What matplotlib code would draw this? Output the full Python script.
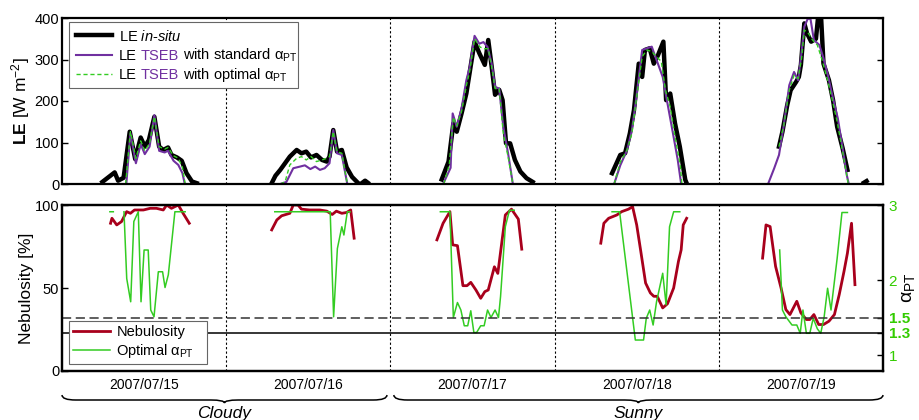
import numpy as np
import matplotlib
matplotlib.use('Agg')
from matplotlib import pyplot as plt
from matplotlib.path import Path
from matplotlib.patches import PathPatch
import matplotlib.transforms as mtransforms

nan = np.nan

days = ['2007/07/15', '2007/07/16', '2007/07/17', '2007/07/18', '2007/07/19']
day_centres = [12, 36, 60, 84, 108]
day_edges = [24, 48, 72, 96]
sky_groups = ['Cloudy', 'Sunny']
sky_spans = [(0, 47.5), (48.5, 120)]

# time axis = hours since 2007/07/15 00:00, NaN breaks the line between days
le_insitu_h = [5.9, 7.7, 8.2, 9.0, 9.9, 10.7, 11.5, 12.1, 12.7, 13.5, 14.2, 14.8, 15.5, 16.0, 16.8, 17.5, 18.2, 19.0, 19.7, nan,
               30.65, 31.2, 31.9, 32.6, 33.3, 34.3, 35.0, 35.7, 36.4, 37.2, 38.0, 38.7, 39.1, 39.65, 40.2, 40.9, 41.6, 42.4, 43.3, nan,
               43.9, 44.3, 44.7, nan,
               55.5, 56.5, 57.2, 57.7, 58.4, 59.1, 59.6, 60.3, 61.0, 61.8, 62.3, 62.8, 63.3, 63.9, 64.4, 64.9, 65.5, 66.2, 67.0, 67.9, 68.8, nan,
               80.4, 81.6, 82.3, 83.0, 83.6, 84.3, 84.8, 85.2, 85.9, 86.5, 87.1, 87.9, 88.3, 88.9, 89.6, 90.3, 91.1, 91.3, nan,
               104.8, 105.3, 106.0, 106.5, 107.3, 107.7, 108.0, 108.5, 108.9, 109.5, 110.2, 110.8, 111.3, 112.1, 112.7, 113.3, 114.1, 114.8, nan,
               117.2, 117.6]
le_insitu = [5, 28, 8, 15, 126, 60, 112, 90, 106, 162, 90, 82, 88, 70, 64, 56, 26, 6, 2, nan,
             2, 20, 34, 50, 66, 82, 74, 78, 64, 70, 58, 54, 66, 130, 78, 82, 40, 17, 2, nan,
             3, 8, 3, nan,
             11, 54, 146, 126, 170, 218, 270, 343, 315, 287, 347, 283, 215, 227, 202, 98, 98, 58, 30, 14, 5, nan,
             26, 70, 74, 122, 178, 290, 258, 323, 327, 290, 310, 343, 202, 218, 146, 90, 10, 2, nan,
             90, 126, 190, 226, 246, 258, 287, 387, 363, 343, 350, 450, 290, 250, 202, 138, 86, 34, nan,
             3, 7]

le_std_h = [9.4, 10.0, 10.8, 11.5, 12.1, 12.8, 13.5, 14.2, 15.0, 15.5, 16.3, 17.0, 17.6, 17.95, nan,
            31.9, 32.8, 33.8, 34.8, 35.5, 36.3, 37.0, 37.7, 38.4, 39.1, 39.65, 40.2, 40.9, 41.7, nan,
            55.7, 56.8, 57.1, 57.7, 58.4, 59.1, 59.6, 60.3, 61.0, 61.6, 62.2, 62.8, 63.3, 63.9, 64.5, 65.2, 65.9, nan,
            80.7, 81.6, 82.6, 83.3, 83.9, 84.8, 85.5, 86.2, 86.9, 87.8, 88.5, 89.3, 90.0, 90.5, nan,
            103.2, 104.1, 104.8, 105.5, 106.3, 107.0, 107.6, 108.1, 108.5, 109.0, 109.4, 109.9, 110.7, 111.3, 112.0, 112.7, 113.4, 114.1, 114.7, 115.0]
le_std = [0, 122, 50, 96, 72, 90, 166, 80, 76, 80, 56, 46, 26, 0, nan,
          0, 5, 38, 42, 45, 36, 42, 34, 38, 50, 130, 74, 70, 0, nan,
          0, 39, 170, 138, 182, 250, 282, 357, 338, 342, 330, 290, 234, 230, 138, 74, 0, nan,
          0, 45, 82, 130, 202, 323, 327, 331, 299, 258, 194, 122, 58, 0, nan,
          0, 38, 70, 142, 238, 270, 250, 318, 379, 398, 398, 347, 335, 303, 258, 206, 158, 86, 22, 0]

le_opt_h = [9.3, 10.0, 10.8, 11.5, 12.1, 12.8, 13.5, 14.2, 15.0, 15.5, 16.3, 17.0, 17.6, 18.0, nan,
            31.9, 32.6, 33.3, 34.3, 35.0, 35.7, 36.4, 37.2, 38.0, 38.7, 39.1, 39.65, 40.2, 40.9, 41.7, nan,
            55.8, 56.6, 57.2, 57.7, 58.4, 59.1, 59.6, 60.3, 61.1, 61.7, 62.3, 62.8, 63.3, 63.9, 64.5, 65.2, 65.9, nan,
            80.7, 81.6, 82.6, 83.3, 84.0, 84.8, 85.5, 86.2, 86.9, 87.6, 88.2, 88.9, 89.6, 90.4, 90.6, nan,
            104.8, 105.5, 106.3, 107.0, 107.6, 108.1, 108.5, 109.1, 109.7, 110.4, 111.1, 111.9, 112.6, 113.3, 114.1, 114.9]
le_opt = [0, 126, 62, 104, 80, 98, 162, 90, 84, 88, 68, 62, 40, 0, nan,
          0, 5, 46, 62, 66, 58, 66, 54, 58, 62, 66, 126, 78, 74, 0, nan,
          0, 46, 161, 140, 175, 237, 273, 350, 330, 326, 326, 283, 230, 230, 122, 66, 0, nan,
          0, 53, 82, 122, 210, 307, 323, 319, 307, 295, 226, 186, 114, 42, 0, nan,
          90, 142, 226, 262, 254, 303, 371, 363, 347, 335, 299, 250, 202, 150, 78, 2]

neb_h = [7.1, 7.3, 8.0, 8.7, 9.45, 10.0, 10.6, 11.9, 12.9, 13.8, 14.8, 15.3, 16.0, 17.0, 17.7, 18.6, nan,
         30.65, 31.4, 32.1, 33.3, 33.8, 34.5, 35.0, 36.2, 37.7, 38.7, 39.5, 40.1, 40.9, 41.6, 42.2, 42.7, nan,
         54.8, 55.7, 56.7, 57.1, 57.8, 58.6, 59.2, 59.75, 60.5, 61.2, 61.8, 62.3, 63.2, 63.7, 64.8, 65.7, 66.7, 67.2, nan,
         78.75, 79.2, 79.9, 81.1, 81.8, 82.8, 83.4, 84.0, 84.6, 85.3, 86.0, 86.5, 87.0, 87.8, 88.5, 89.4, 90.1, 90.5, 90.8, 91.3, nan,
         102.4, 102.9, 103.5, 104.3, 105.1, 105.8, 106.4, 107.4, 108.0, 108.8, 109.3, 109.9, 110.6, 111.3, 112.1, 112.9, 113.6, 114.3, 114.8, 115.4, 115.9]
nebulosity = [89, 92, 88, 90, 96, 95, 97, 97, 98, 98, 97, 100, 98, 100, 95, 89, nan,
              85, 91, 93.5, 95, 100, 100, 97.5, 97, 97, 96.3, 94.3, 96.3, 95, 95.5, 97, 80, nan,
              79, 89, 96, 76, 75.5, 51.4, 51.4, 53.4, 48.8, 43.8, 47.8, 48.8, 62.8, 58.8, 94, 97.5, 91.5, 73.4, nan,
              77, 89, 92, 94, 96, 97.5, 99, 88, 72, 53, 47, 45, 45, 38, 40.5, 50, 66, 73, 88, 92, nan,
              68, 88, 87, 63, 50, 37, 34, 42, 35, 31, 31, 34, 28, 28, 30, 34, 46, 60, 71, 89, 52]

alpha_h = [7.0, 7.5, nan,
           9.06, 9.46, 10.04, 10.5, 11.15, 11.55, 12.0, 12.6, 12.97, 13.45, 14.08, 14.7, 15.06, 15.54, 16.5, 18.0, nan,
           31.1, 39.2, 39.7, 40.25, 40.9, 41.2, 41.7, 42.1, nan,
           55.3, 56.7, 57.2, 57.8, 58.3, 58.8, 59.3, 59.75, 60.2, 60.6, 61.2, 61.7, 62.2, 62.7, 63.3, 63.8, 64.1, 64.8, 65.4, 66.1, nan,
           80.4, 81.5, 83.8, 85.0, 85.4, 85.9, 86.4, 86.9, 87.8, 88.3, 88.8, 89.4, 90.3, nan,
           104.9, 105.3, 105.8, 106.7, 107.4, 107.9, 108.3, 108.8, 109.3, 109.8, 110.4, 110.9, 111.4, 111.9, 112.4, 113.3, 114.0, 114.8]
alpha_opt = [2.91, 2.91, nan,
             2.91, 2.02, 1.71, 2.78, 2.91, 1.71, 2.4, 2.4, 1.6, 1.51, 2.11, 2.11, 1.9, 2.07, 2.91, 2.91, nan,
             2.91, 2.91, 1.51, 2.42, 2.71, 2.6, 2.91, 2.91, nan,
             2.91, 2.91, 1.50, 1.70, 1.6, 1.39, 1.39, 1.59, 1.30, 1.30, 1.39, 1.39, 1.6, 1.5, 1.6, 1.5, 1.78, 2.71, 2.93, 2.93, nan,
             2.91, 2.91, 1.2, 1.2, 1.49, 1.6, 1.4, 1.71, 2.09, 1.67, 2.71, 2.91, 2.91, nan,
             2.4, 1.6, 1.51, 1.4, 1.4, 1.29, 1.6, 1.29, 1.29, 1.49, 1.35, 1.29, 1.51, 1.89, 1.6, 2.29, 2.9, 2.9]

alpha_ticks = [1, 1.3, 1.5, 2, 3]
alpha_ticklabels = ['1', '1.3', '1.5', '2', '3']

BLACK = 'k'
PURPLE = '#7030a0'
GREEN = '#33cc22'
GREEN_TXT = '#33cc00'
RED = '#a8001c'

plt.rcParams['font.family'] = ['Liberation Sans', 'DejaVu Sans']
plt.rcParams['mathtext.fontset'] = 'custom'
plt.rcParams['mathtext.rm'] = 'Liberation Sans'
plt.rcParams['mathtext.it'] = 'Liberation Sans:italic'
plt.rcParams['mathtext.bf'] = 'Liberation Sans:bold'

W, H = 919, 420
fig = plt.figure(figsize=(W / 100, H / 100), dpi=100)
ax1 = fig.add_axes([62 / W, 1 - 184 / H, 821 / W, 166 / H])
ax2 = fig.add_axes([62 / W, 1 - 371 / H, 821 / W, 166 / H])

for ax in (ax1, ax2):
    ax.set_xlim(0, 120)
    for s in ax.spines.values():
        s.set_linewidth(1.6)
    for e in day_edges:
        ax.axvline(e, color='k', lw=0.8, ls=(0, (2, 2)), zorder=1)

# --- top panel: latent heat flux
l1, = ax1.plot(le_insitu_h, le_insitu, color=BLACK, lw=3.2)
l2, = ax1.plot(le_std_h, le_std, color=PURPLE, lw=1.5)
l3, = ax1.plot(le_opt_h, le_opt, color=GREEN, lw=1.0, ls=(0, (3, 2)))
ax1.set_ylim(0, 400)
ax1.set_yticks([0, 100, 200, 300, 400])
ax1.set_xticks([])
ax1.tick_params(axis='y', direction='in', right=True, length=4, width=1, labelsize=10.5, pad=2)
ax1.set_ylabel(r'$\mathbf{LE}$ [W m$^{-2}$]', fontsize=12.5)
ax1.yaxis.set_label_coords(-0.036, 0.5)

# labels 2 and 3 are finished below with a purple "TSEB"
leg1 = ax1.legend([l1, l2, l3],
                  [r'LE $\mathit{in}$-$\mathit{situ}$', 'LE', 'LE'],
                  loc='upper left', bbox_to_anchor=(7 / 821, 1 - 4 / 166, 229 / 821, 0),
                  mode='expand', borderaxespad=0,
                  fontsize=10.5, fancybox=False, edgecolor='0.4', framealpha=1,
                  handlelength=2.5, handletextpad=0.45, labelspacing=0.35, borderpad=0.45)
leg1.get_frame().set_linewidth(0.8)

# --- bottom panel: nebulosity and optimal alpha
r1, = ax2.plot(neb_h, nebulosity, color=RED, lw=2)
ax2.set_ylim(0, 100)
ax2.set_yticks([0, 50, 100])
ax2.set_xticks(day_centres)
ax2.set_xticklabels(days)
ax2.tick_params(axis='x', length=0, labelsize=10, pad=5)
ax2.tick_params(axis='y', direction='in', length=4, width=1, labelsize=10.5, pad=2)
ax2.set_ylabel('Nebulosity [%]', fontsize=12.5)
ax2.yaxis.set_label_coords(-0.034, 0.5)

ax2r = ax2.twinx()
ax2r.set_xlim(0, 120)
g1, = ax2r.plot(alpha_h, alpha_opt, color=GREEN, lw=1.1)
ax2r.axhline(1.5, color='0.2', lw=1.1, ls=(0, (6, 3)))
ax2r.axhline(1.3, color='k', lw=1.1)
ax2r.set_ylim(0.787, 3)
ax2r.set_yticks(alpha_ticks)
ax2r.set_yticklabels(alpha_ticklabels)
ax2r.tick_params(axis='y', direction='in', length=4, width=1, labelsize=11,
                 labelcolor=GREEN_TXT, pad=4)
for t in ax2r.get_yticklabels():
    if t.get_text() in ('1.3', '1.5'):
        t.set_fontweight('bold')
for s in ax2r.spines.values():
    s.set_linewidth(1.6)
ax2r.set_ylabel(r'α$_{\mathrm{PT}}$', fontsize=14)
ax2r.yaxis.set_label_coords(1.021, 0.5)

leg2 = ax2r.legend([r1, g1], ['Nebulosity', r'Optimal α$_{\mathrm{PT}}$'],
                   loc='lower left', bbox_to_anchor=(7 / 821, 7 / 166, 138 / 821, 0),
                   mode='expand', borderaxespad=0,
                   fontsize=10.5, fancybox=False, edgecolor='0.4', framealpha=1,
                   handlelength=2.5, handletextpad=0.45, labelspacing=0.15, borderpad=0.3)
leg2.get_frame().set_linewidth(0.8)

# braces under the dates
tr = mtransforms.blended_transform_factory(ax2.transData, fig.transFigure)
for name, (x0, x1) in zip(sky_groups, sky_spans):
    xm = (x0 + x1) / 2
    c = 2.0
    yt, yb, yp = 25 / H, 20 / H, 17 / H
    verts = [(x0, yt), (x0, yb), (x0 + c, yb), (xm - c, yb), (xm, yb), (xm, yp),
             (xm, yb), (xm + c, yb), (x1 - c, yb), (x1, yb), (x1, yt)]
    codes = [Path.MOVETO, Path.CURVE3, Path.CURVE3, Path.LINETO, Path.CURVE3, Path.CURVE3,
             Path.CURVE3, Path.CURVE3, Path.LINETO, Path.CURVE3, Path.CURVE3]
    fig.add_artist(PathPatch(Path(verts, codes), transform=tr, fc='none', ec='k', lw=1.1))
    fig.text(xm, 14 / H, name, transform=tr, ha='center', va='top', fontsize=12.5, style='italic')

# finish legend labels: "LE" + purple "TSEB" + rest
fig.canvas.draw()
rend = fig.canvas.get_renderer()
rests = [r'with standard α$_{\mathrm{PT}}$', r'with optimal α$_{\mathrm{PT}}$']
for t, rest in zip(leg1.get_texts()[1:], rests):
    x, y = t.get_transform().transform(t.get_position())
    prop = t.get_fontproperties()
    def w(s):
        return rend.get_text_width_height_descent(s, prop, ismath=False)[0]
    fig.text((x + w('LE TSEB') - w('TSEB')) / W, y / H, 'TSEB', color=PURPLE,
             fontproperties=prop, ha='left', va='baseline')
    fig.text((x + w('LE TSEB with') - w('with')) / W, y / H, rest, color='k',
             fontproperties=prop, ha='left', va='baseline')

fig.savefig('out.png', dpi=100)
